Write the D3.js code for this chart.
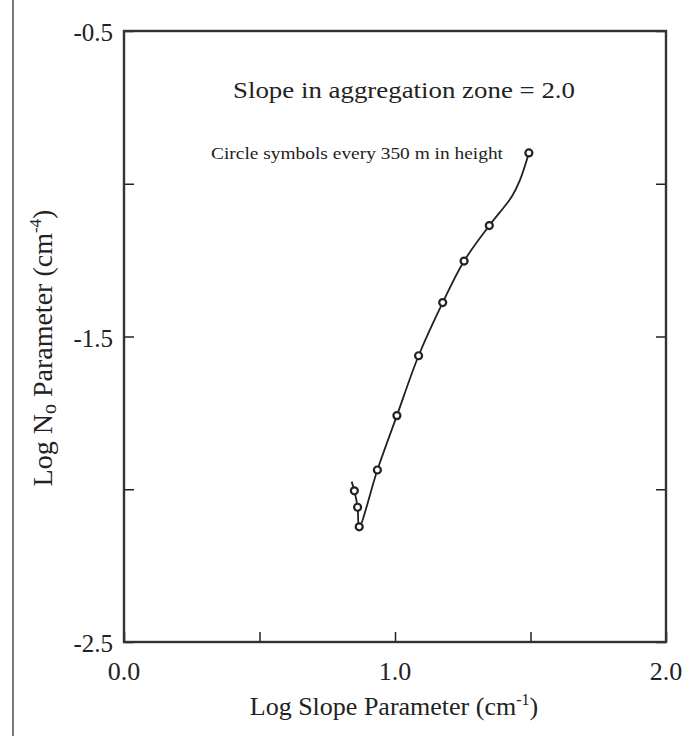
<!DOCTYPE html>
<html><head><meta charset="utf-8">
<script src="https://cdn.jsdelivr.net/npm/d3@7"></script>
<style>body{margin:0;background:#fff}svg{display:block}</style>
</head><body>
<svg id="c" width="688" height="736"></svg>
<script>
// Data
const xTickValues = [0.0, 0.5, 1.0, 1.5, 2.0];
const xTickLabels = ["0.0", "", "1.0", "", "2.0"];
const yTickValues = [-0.5, -1.0, -1.5, -2.0, -2.5];
const yTickLabels = ["-0.5", "", "-1.5", "", "-2.5"];
// traced line (log slope, log N0)
const lineX = [0.840, 0.850, 0.862, 0.868, 0.935, 1.007, 1.087, 1.176, 1.255, 1.348, 1.431, 1.461, 1.494];
const lineY = [-1.975, -2.005, -2.059, -2.123, -1.937, -1.759, -1.563, -1.389, -1.253, -1.137, -1.042, -0.988, -0.899];
// circle symbols every 350 m in height
const circX = [0.850, 0.862, 0.868, 0.935, 1.007, 1.087, 1.176, 1.255, 1.348, 1.494];
const circY = [-2.005, -2.059, -2.123, -1.937, -1.759, -1.563, -1.389, -1.253, -1.137, -0.899];

const svg = d3.select("#c");
const L = 124, R = 666, T = 31, B = 642;
const x = d3.scaleLinear().domain([0, 2]).range([L, R]);
const y = d3.scaleLinear().domain([-2.5, -0.5]).range([B, T]);
const font = "'Liberation Serif','Times New Roman',serif";
const ink = "#222";

// left gray rule
svg.append("line").attr("x1", 13).attr("x2", 13).attr("y1", 0).attr("y2", 736)
  .attr("stroke", "#7a7a7a").attr("stroke-width", 2);

// axes with inward ticks
const xAx = svg.append("g").attr("transform", `translate(0,${B})`)
  .call(d3.axisTop(x).tickValues(xTickValues).tickSize(10).tickFormat(""));
const yAx = svg.append("g").attr("transform", `translate(${L},0)`)
  .call(d3.axisRight(y).tickValues(yTickValues).tickSize(10).tickFormat(""));
const yAxR = svg.append("g").attr("transform", `translate(${R},0)`)
  .call(d3.axisLeft(y).tickValues(yTickValues).tickSize(10).tickFormat(""));
[xAx, yAx, yAxR].forEach(g => {
  g.select(".domain").remove();
  g.selectAll("line").attr("stroke", ink).attr("stroke-width", 1.5);
});
// frame
svg.append("rect").attr("x", L).attr("y", T).attr("width", R - L).attr("height", B - T)
  .attr("fill", "none").attr("stroke", "#333").attr("stroke-width", 2.4);

// tick labels
svg.append("g").selectAll("text").data(xTickValues).join("text")
  .attr("x", d => x(d)).attr("y", B + 38).attr("text-anchor", "middle")
  .attr("font-family", font).attr("font-size", 26).attr("fill", ink)
  .text((d, i) => xTickLabels[i]);
svg.append("g").selectAll("text").data(yTickValues).join("text")
  .attr("x", L - 11).attr("y", d => y(d) + 10).attr("text-anchor", "end")
  .attr("font-family", font).attr("font-size", 25).attr("fill", ink)
  .text((d, i) => yTickLabels[i]);

// axis titles
const xt = svg.append("text").attr("x", 394).attr("y", 715).attr("text-anchor", "middle")
  .attr("font-family", font).attr("font-size", 26).attr("fill", ink);
xt.append("tspan").text("Log Slope Parameter (cm");
xt.append("tspan").attr("dy", -10).attr("font-size", 16).text("-1");
xt.append("tspan").attr("dy", 10).text(")");

const yt = svg.append("text").attr("transform", `translate(52,348) rotate(-90)`)
  .attr("text-anchor", "middle").attr("font-family", font).attr("font-size", 28).attr("fill", ink);
yt.append("tspan").text("Log N");
yt.append("tspan").attr("dy", 4).attr("font-size", 20).text("o");
yt.append("tspan").attr("dy", -4).text(" Parameter (cm");
yt.append("tspan").attr("dy", -11).attr("font-size", 17).text("-4");
yt.append("tspan").attr("dy", 11).text(")");

// annotations
svg.append("text").attr("x", 233).attr("y", 98)
  .attr("textLength", 342).attr("lengthAdjust", "spacingAndGlyphs")
  .attr("font-family", font).attr("font-size", 24).attr("fill", ink)
  .text("Slope in aggregation zone = 2.0");
svg.append("text").attr("x", 211).attr("y", 159)
  .attr("textLength", 292).attr("lengthAdjust", "spacingAndGlyphs")
  .attr("font-family", font).attr("font-size", 17).attr("fill", ink)
  .text("Circle symbols every 350 m in height");

// line
const pts = lineX.map((v, i) => [v, lineY[i]]);
svg.append("path").datum(pts)
  .attr("d", d3.line().x(d => x(d[0])).y(d => y(d[1])).curve(d3.curveCatmullRom.alpha(0.5)))
  .attr("fill", "none").attr("stroke", ink).attr("stroke-width", 1.8);

// circles
svg.append("g").selectAll("circle").data(circX.map((v, i) => [v, circY[i]])).join("circle")
  .attr("cx", d => x(d[0])).attr("cy", d => y(d[1])).attr("r", 3.5)
  .attr("fill", "#fff").attr("stroke", ink).attr("stroke-width", 2.2);
</script>
</body></html>
